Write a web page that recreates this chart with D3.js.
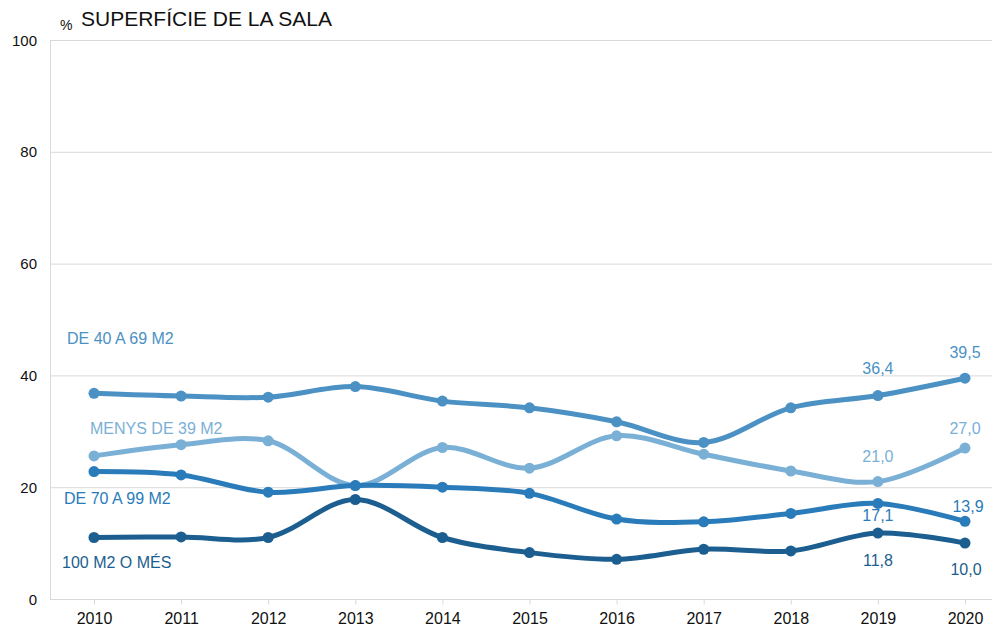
<!doctype html>
<html lang="ca">
<head>
<meta charset="utf-8">
<title>Superfície de la sala</title>
<script src="https://cdn.jsdelivr.net/npm/d3@7"></script>
<style>
  html, body { margin: 0; padding: 0; background: #fff; }
  body { font-family: "Liberation Sans", Arial, sans-serif; }
  .grid line { stroke: #d9d9d9; stroke-width: 1; }
  .axis text { fill: #111; }
</style>
</head>
<body>
<div id="chart"></div>
<script>
// Data
const years = [2010, 2011, 2012, 2013, 2014, 2015, 2016, 2017, 2018, 2019, 2020];
const yTicks = [0, 20, 40, 60, 80, 100];

const seriesNames = ['DE 40 A 69 M2', 'MENYS DE 39 M2', 'DE 70 A 99 M2', '100 M2 O MÉS'];
const de40a69 = [36.8, 36.3, 36.1, 38.0, 35.4, 34.2, 31.7, 28.0, 34.2, 36.4, 39.5];
const menys39 = [25.6, 27.6, 28.3, 20.3, 27.1, 23.4, 29.2, 25.9, 22.9, 21.0, 27.0];
const de70a99 = [22.8, 22.2, 19.1, 20.3, 20.0, 18.9, 14.3, 13.8, 15.3, 17.1, 13.9];
const mes100  = [11.0, 11.1, 11.0, 17.8, 11.0, 8.3, 7.1, 8.9, 8.6, 11.8, 10.0];
const seriesValues = [de40a69, menys39, de70a99, mes100];

// Style
const colors = ['#4b91c4', '#7bb0d6', '#2a7bb9', '#1b5e8f'];
// series name label positions (px) and value label offsets from the point
const nameLabelPos = [[67, 344], [90, 434], [64, 504], [62, 568]];
const valueLabelIdx = [9, 10];
const valueLabelOffset = [
  [[0, -22], [0, -20]],
  [[0, -20], [0, -14]],
  [[0, 18], [3, -9]],
  [[0, 33], [1, 32]]
];

const W = 998, H = 627;
const svg = d3.select('#chart').append('svg')
  .attr('width', W)
  .attr('height', H);

const x = d3.scalePoint().domain(years).range([94, 965]);
const y = d3.scaleLinear().domain([0, 100]).range([599, 40]);
const left = 50, right = 992;

// Gridlines
svg.append('g').attr('class', 'grid')
  .selectAll('line')
  .data(yTicks)
  .enter().append('line')
  .attr('x1', left).attr('x2', right)
  .attr('y1', d => y(d) + 0.5).attr('y2', d => y(d) + 0.5);

// Left axis line
svg.append('line')
  .attr('x1', left + 0.5).attr('x2', left + 0.5)
  .attr('y1', y(100)).attr('y2', y(0))
  .attr('stroke', '#d9d9d9');

// Y axis labels
svg.append('g').attr('class', 'axis')
  .selectAll('text')
  .data(yTicks)
  .enter().append('text')
  .attr('x', 37)
  .attr('y', d => y(d) + 5.5)
  .attr('text-anchor', 'end')
  .attr('font-size', 15)
  .text(d => d);

// X axis
const xAxis = svg.append('g').attr('class', 'axis')
  .attr('transform', 'translate(0,' + (y(0) + 0.5) + ')')
  .call(d3.axisBottom(x).tickSize(5).tickPadding(8).tickSizeOuter(0));
xAxis.select('.domain').remove();
xAxis.selectAll('line').attr('stroke', '#d9d9d9');
xAxis.selectAll('text').attr('font-size', 16).attr('fill', '#111')
  .attr('font-family', '"Liberation Sans", Arial, sans-serif');

// Title
svg.append('text')
  .attr('x', 60).attr('y', 30)
  .attr('font-size', 14).attr('fill', '#111')
  .text('%');
svg.append('text')
  .attr('x', 81).attr('y', 26)
  .attr('font-size', 21).attr('fill', '#111')
  .text('SUPERFÍCIE DE LA SALA');

const line = d3.line()
  .x((d, i) => x(years[i]))
  .y(d => y(d))
  .curve(d3.curveCatmullRom.alpha(0.5));

const fmt = v => v.toFixed(1).replace('.', ',');

// Lines, draw lighter ones under darker ones
const order = [1, 0, 2, 3];
order.forEach(s => {
  const g = svg.append('g');
  g.append('path')
    .datum(seriesValues[s])
    .attr('d', line)
    .attr('fill', 'none')
    .attr('stroke', colors[s])
    .attr('stroke-width', 5)
    .attr('stroke-linecap', 'round');

  g.selectAll('circle')
    .data(seriesValues[s])
    .enter().append('circle')
    .attr('cx', (d, i) => x(years[i]))
    .attr('cy', d => y(d))
    .attr('r', 5.5)
    .attr('fill', colors[s]);
});

// Series labels and value labels
seriesNames.forEach((name, s) => {
  svg.append('text')
    .attr('x', nameLabelPos[s][0])
    .attr('y', nameLabelPos[s][1])
    .attr('font-size', 16)
    .attr('fill', colors[s])
    .text(name);

  valueLabelIdx.forEach((idx, k) => {
    const off = valueLabelOffset[s][k];
    svg.append('text')
      .attr('x', x(years[idx]) + off[0])
      .attr('y', y(seriesValues[s][idx]) + off[1])
      .attr('text-anchor', 'middle')
      .attr('font-size', 16)
      .attr('fill', colors[s])
      .text(fmt(seriesValues[s][idx]));
  });
});
</script>
</body>
</html>
